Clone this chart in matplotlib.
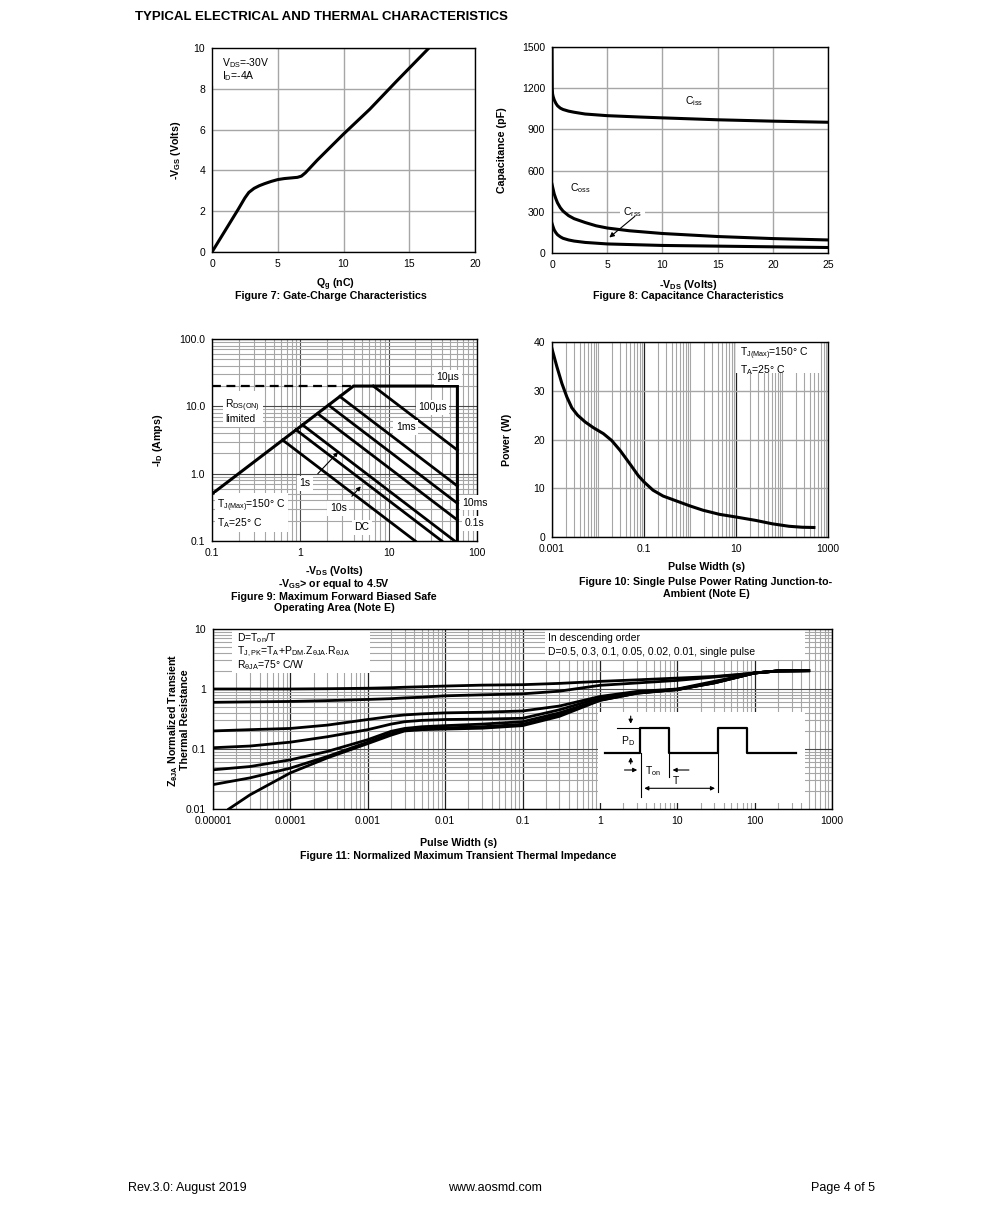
import numpy as np
import matplotlib
matplotlib.use("Agg")
import matplotlib.pyplot as plt
from matplotlib.ticker import FixedLocator, NullFormatter, LogLocator
from matplotlib.patches import Rectangle

plt.rcParams['font.family'] = ['Liberation Sans', 'DejaVu Sans']
plt.rcParams['mathtext.default'] = 'regular'

W, H = 991, 1229

# ---- Figure 7: gate charge
qg = [0, 1, 2, 2.5, 2.8, 3.2, 3.6, 4, 4.5, 5, 5.5, 6, 6.5, 6.8, 7.1, 8, 10, 12, 14, 16.5]
vgs = [0, 1.05, 2.1, 2.65, 2.92, 3.12, 3.25, 3.35, 3.46, 3.55, 3.6, 3.63, 3.66,
       3.72, 3.88, 4.5, 5.78, 7.0, 8.35, 10.0]

# ---- Figure 8: capacitance
vds_ciss = [0, 0.02, 0.05, 0.1, 0.2, 0.35, 0.5, 0.75, 1, 1.5, 2, 3, 5, 8, 10, 15, 20, 25]
ciss = [1500, 1200, 1160, 1140, 1115, 1090, 1072, 1055, 1045, 1033, 1025, 1012,
        1000, 990, 984, 970, 960, 952]
vds_coss = [0, 0.1, 0.2, 0.35, 0.5, 0.75, 1, 1.5, 2, 3, 4, 5, 7, 10, 15, 20, 25]
coss = [500, 465, 430, 395, 365, 330, 305, 272, 250, 222, 198, 182, 162, 142, 120, 105, 95]
vds_crss = [0, 0.1, 0.2, 0.35, 0.5, 0.75, 1, 1.5, 2, 3, 5, 10, 15, 20, 25]
crss = [215, 190, 168, 148, 133, 118, 107, 95, 87, 77, 66, 55, 50, 45, 40]

# ---- Figure 9: SOA
soa_env_x = [0.1, 4, 60, 60]
soa_env_y = [0.5, 20, 20, 0.1]
idm_x = [0.1, 4]
idm_y = [20, 20]
soa_labels = ["100us", "1ms", "10ms", "0.1s", "1s", "10s", "DC"]
soa_x0 = [6.7, 2.8, 2.09, 1.57, 1.06, 0.89, 0.63]
soa_y0 = [20, 14, 10.4, 7.8, 5.3, 4.5, 3.16]
soa_x1 = [60, 60, 60, 60, 56, 40, 20]
soa_y1 = [2.24, 0.656, 0.363, 0.205, 0.1, 0.1, 0.1]

# ---- Figure 10: single pulse power
pw = [0.001, 0.00128, 0.00164, 0.00211, 0.0027, 0.00359, 0.00526, 0.008, 0.0131,
      0.0198, 0.03, 0.0494, 0.0748, 0.1, 0.157, 0.26, 0.505, 0.98, 1.9, 4.36, 10,
      27, 62, 142, 276, 494]
ppk = [38.6, 34.9, 31.5, 28.7, 26.5, 25.0, 23.6, 22.4, 21.2, 19.8, 17.8, 15.0,
       12.6, 11.3, 9.6, 8.4, 7.4, 6.4, 5.5, 4.65, 4.1, 3.4, 2.7, 2.2, 2.0, 1.95]

# ---- Figure 11: transient thermal impedance
zt = [1e-5, 3e-5, 1e-4, 3e-4, 1e-3, 2e-3, 3e-3, 5e-3, 1e-2, 3e-2, 0.1, 0.3, 1, 3,
      10, 30, 60, 100, 200, 500]
z_d05 = [1.0, 1.0, 1.0, 1.01, 1.03, 1.05, 1.07, 1.09, 1.12, 1.16, 1.18, 1.24, 1.34,
         1.42, 1.52, 1.62, 1.74, 1.85, 2.0, 2.02]
z_d03 = [0.6, 0.61, 0.62, 0.64, 0.67, 0.69, 0.71, 0.73, 0.77, 0.80, 0.83, 0.92, 1.15,
         1.26, 1.39, 1.58, 1.72, 1.85, 2.0, 2.02]
z_d01 = [0.2, 0.21, 0.22, 0.25, 0.31, 0.35, 0.37, 0.385, 0.40, 0.41, 0.43, 0.52,
         0.75, 0.91, 1.0, 1.34, 1.6, 1.85, 2.0, 2.02]
z_d005 = [0.105, 0.112, 0.13, 0.16, 0.21, 0.26, 0.285, 0.30, 0.31, 0.315, 0.325,
          0.45, 0.71, 0.88, 0.97, 1.3, 1.58, 1.85, 2.0, 2.02]
z_d002 = [0.045, 0.051, 0.066, 0.091, 0.143, 0.197, 0.22, 0.235, 0.245, 0.26, 0.285,
          0.40, 0.66, 0.86, 0.99, 1.27, 1.58, 1.85, 2.0, 2.02]
z_d001 = [0.0255, 0.033, 0.048, 0.075, 0.13, 0.18, 0.205, 0.218, 0.225, 0.235, 0.258,
          0.37, 0.65, 0.85, 0.98, 1.26, 1.57, 1.85, 2.0, 2.02]
zt_sp = [1.6e-5, 3e-5, 1e-4, 3e-4, 1e-3, 2e-3, 3e-3, 5e-3, 1e-2, 3e-2, 0.1, 0.3, 1,
         3, 10, 30, 60, 100, 200, 500]
z_sp = [0.01, 0.0172, 0.04, 0.071, 0.123, 0.17, 0.2, 0.21, 0.215, 0.222, 0.245, 0.35,
        0.645, 0.85, 0.98, 1.26, 1.57, 1.85, 2.0, 2.02]

# pulse sketch (inset units)
wave_u = [7, 42, 42, 71.3, 71.3, 120.3, 120.3, 149.3, 149.3, 198]
wave_v = [50, 50, 75, 75, 50, 50, 75, 75, 50, 50]

fig = plt.figure(figsize=(W / 100, H / 100), dpi=100)

GRID = '#a6a6a6'
MAJ = '#4a4a4a'
FS = 7.5      # tick labels
FA = 7.5      # annotations
FB = 7.7      # bold labels / captions


def box(x0, y0, x1, y1):
    return fig.add_axes([x0 / W, 1 - y1 / H, (x1 - x0) / W, (y1 - y0) / H])


def ftext(x, y, s, **kw):
    kw.setdefault('ha', 'center')
    kw.setdefault('va', 'center')
    kw.setdefault('fontsize', FB)
    fig.text(x / W, 1 - y / H, s, **kw)


def style(ax):
    ax.set_axisbelow(True)
    for sp in ax.spines.values():
        sp.set_linewidth(1.0)
    ax.tick_params(which='both', length=0, labelsize=FS, pad=5)


def loggrid(ax, axis):
    a = ax.xaxis if axis == 'x' else ax.yaxis
    a.set_minor_locator(LogLocator(base=10, subs=np.arange(1, 10), numticks=100))
    a.set_minor_formatter(NullFormatter())
    ax.grid(which='minor', axis=axis, color=GRID, lw=0.8)
    ax.grid(which='major', axis=axis, color=MAJ, lw=0.8)


WHITE = dict(boxstyle='square,pad=0.25', fc='white', ec='none')

ftext(135, 17, "TYPICAL ELECTRICAL AND THERMAL CHARACTERISTICS",
      ha='left', fontsize=9.5, fontweight='bold')

# ---------------- Figure 7
ax7 = box(212, 48, 475, 252)
style(ax7)
ax7.plot(qg, vgs, color='k', lw=2.2)
ax7.set_xlim(0, 20)
ax7.set_ylim(0, 10)
ax7.set_xticks(range(0, 21, 5))
ax7.set_yticks(range(0, 11, 2))
ax7.grid(color=GRID, lw=1)
ax7.add_patch(Rectangle((0.05, 8.15), 4.8, 1.8, fc='white', ec='none', zorder=1))
ax7.text(0.037, 0.925, "V$_{DS}$=-30V", transform=ax7.transAxes,
         va='center', fontsize=FA)
ax7.text(0.037, 0.862, "I$_{D}$=-4A", transform=ax7.transAxes,
         va='center', fontsize=FA)
ftext(176, 150, "-V$_{GS}$ (Volts)", rotation=90, fontweight='bold')
ftext(335, 285, "Q$_{g}$ (nC)", fontweight='bold')
ftext(331, 296.5, "Figure 7: Gate-Charge Characteristics", fontweight='bold')

# ---------------- Figure 8
ax8 = box(552, 47, 828, 253)
style(ax8)
ax8.plot(vds_ciss, ciss, color='k', lw=2.2)
ax8.plot(vds_coss, coss, color='k', lw=2.2)
ax8.plot(vds_crss, crss, color='k', lw=2.2)
ax8.set_xlim(0, 25)
ax8.set_ylim(0, 1500)
ax8.set_xticks(range(0, 26, 5))
ax8.set_yticks(range(0, 1501, 300))
ax8.grid(color=GRID, lw=1)
ax8.text(12.9, 1108, "C$_{iss}$", fontsize=FA, ha='center', va='center')
ax8.text(2.6, 470, "C$_{oss}$", fontsize=FA, ha='center', va='center')
ax8.text(7.3, 300, "C$_{rss}$", fontsize=FA, ha='center', va='center', bbox=WHITE)
ax8.annotate("", xy=(5.0, 100), xytext=(7.7, 280),
             arrowprops=dict(arrowstyle='-|>', color='k', lw=0.8, mutation_scale=7))
ftext(502, 150, "Capacitance (pF)", rotation=90, fontweight='bold')
ftext(688, 285, "-V$_{DS}$ (Volts)", fontweight='bold')
ftext(688, 296.5, "Figure 8: Capacitance Characteristics", fontweight='bold')

# ---------------- Figure 9
ax9 = box(212, 339, 477, 541)
style(ax9)
ax9.set_xscale('log')
ax9.set_yscale('log')
ax9.set_xlim(0.1, 100)
ax9.set_ylim(0.1, 100)
ax9.xaxis.set_major_locator(FixedLocator([0.1, 1, 10, 100]))
ax9.set_xticklabels(["0.1", "1", "10", "100"])
ax9.yaxis.set_major_locator(FixedLocator([0.1, 1, 10, 100]))
ax9.set_yticklabels(["0.1", "1.0", "10.0", "100.0"])
loggrid(ax9, 'x')
loggrid(ax9, 'y')
ax9.plot(soa_env_x, soa_env_y, color='k', lw=2.2, solid_joinstyle='miter')
ax9.plot(idm_x, idm_y, color='k', lw=1.6, ls=(0, (4, 2.5)))
for x0, y0, x1, y1 in zip(soa_x0, soa_y0, soa_x1, soa_y1):
    ax9.plot([x0, x1], [y0, y1], color='k', lw=2.0)
t9 = dict(transform=ax9.transAxes, fontsize=FA, va='center', bbox=WHITE)
ax9.text(0.89, 0.81, "10\u00b5s", ha='center', **t9)
ax9.text(0.832, 0.661, "100\u00b5s", ha='center', **t9)
ax9.text(0.731, 0.562, "1ms", ha='center', **t9)
ax9.text(0.05, 0.645, "R$_{DS(ON)}$\nlimited", ha='left', linespacing=1.05, **t9)
ax9.text(0.351, 0.286, "1s", ha='center', **t9)
ax9.text(0.477, 0.162, "10s", ha='center', **t9)
ax9.text(0.565, 0.068, "DC", ha='center', **t9)
ax9.text(0.945, 0.19, "10ms", ha='left', **t9)
ax9.text(0.955, 0.088, "0.1s", ha='left', **t9)
ax9.text(0.02, 0.134, "T$_{J(Max)}$=150\u00b0 C\nT$_{A}$=25\u00b0 C", ha='left',
         linespacing=1.15, **t9)
arrow9 = dict(arrowstyle='-|>', color='k', lw=0.8, mutation_scale=6)
ax9.annotate("", xy=(2.81, 2.24), xytext=(1.5, 0.93), arrowprops=arrow9)
ax9.annotate("", xy=(5.08, 0.695), xytext=(3.65, 0.43), arrowprops=arrow9)
ftext(158, 440, "-I$_{D}$ (Amps)", rotation=90, fontweight='bold')
ftext(334, 571.5, "-V$_{DS}$ (Volts)", fontweight='bold')
ftext(334, 584, "-V$_{GS}$> or equal to 4.5V", fontweight='bold')
ftext(334, 596.5, "Figure 9: Maximum Forward Biased Safe", fontweight='bold')
ftext(334, 608, "Operating Area (Note E)", fontweight='bold')

# ---------------- Figure 10
ax10 = box(552, 342, 828, 537)
style(ax10)
ax10.set_xscale('log')
ax10.set_xlim(0.001, 1000)
ax10.set_ylim(0, 40)
ax10.xaxis.set_major_locator(FixedLocator([0.001, 0.1, 10, 1000]))
ax10.set_xticklabels(["0.001", "0.1", "10", "1000"])
ax10.set_yticks(range(0, 41, 10))
loggrid(ax10, 'x')
ax10.grid(which='major', axis='x', color='#202020', lw=0.9)
ax10.grid(which='major', axis='y', color=GRID, lw=1)
ax10.plot(pw, ppk, color='k', lw=2.2)
ax10.add_patch(Rectangle((0.665, 0.84), 0.305, 0.16, transform=ax10.transAxes,
                         fc='white', ec='none', zorder=1))
ax10.text(0.68, 0.90, "T$_{J(Max)}$=150\u00b0 C\nT$_{A}$=25\u00b0 C",
          transform=ax10.transAxes, fontsize=FA, va='center', linespacing=1.15)
ftext(507, 440, "Power (W)", rotation=90, fontweight='bold')
ftext(706, 567, "Pulse Width (s)", fontweight='bold')
ftext(706, 582, "Figure 10: Single Pulse Power Rating Junction-to-", fontweight='bold')
ftext(706, 594, "Ambient (Note E)", fontweight='bold')

# ---------------- Figure 11
ax11 = box(213, 629, 832, 809)
style(ax11)
ax11.set_xscale('log')
ax11.set_yscale('log')
ax11.set_xlim(1e-5, 1000)
ax11.set_ylim(0.01, 10)
xt11 = [1e-5, 1e-4, 1e-3, 1e-2, 0.1, 1, 10, 100, 1000]
ax11.xaxis.set_major_locator(FixedLocator(xt11))
ax11.set_xticklabels(["0.00001", "0.0001", "0.001", "0.01", "0.1", "1", "10",
                      "100", "1000"])
ax11.yaxis.set_major_locator(FixedLocator([0.01, 0.1, 1, 10]))
ax11.set_yticklabels(["0.01", "0.1", "1", "10"])
loggrid(ax11, 'x')
loggrid(ax11, 'y')
ax11.grid(which='major', axis='x', color='#202020', lw=0.9)
for zz in [z_d05, z_d03, z_d01, z_d005, z_d002, z_d001]:
    ax11.plot(zt, zz, color='k', lw=2.0)
ax11.plot(zt_sp, z_sp, color='k', lw=2.0)
ax11.add_patch(Rectangle((0.03, 0.756), 0.224, 0.244, transform=ax11.transAxes,
                         fc='white', ec='none', zorder=1))
t11 = dict(transform=ax11.transAxes, fontsize=FA, va='center')
ax11.text(0.038, 0.95, "D=T$_{on}$/T", **t11)
ax11.text(0.038, 0.872,
          "T$_{J,PK}$=T$_{A}$+P$_{DM}$.Z$_{\u03b8JA}$.R$_{\u03b8JA}$", **t11)
ax11.text(0.038, 0.80, "R$_{\u03b8JA}$=75\u00b0 C/W", **t11)
ax11.add_patch(Rectangle((0.536, 0.828), 0.42, 0.172, transform=ax11.transAxes,
                         fc='white', ec='none', zorder=1))
ax11.text(0.541, 0.948, "In descending order", **t11)
ax11.text(0.541, 0.871, "D=0.5, 0.3, 0.1, 0.05, 0.02, 0.01, single pulse", **t11)
ftext(178, 720, "Z$_{\u03b8JA}$ Normalized Transient\nThermal Resistance",
      rotation=90, fontweight='bold', linespacing=1.0)
ftext(458, 843, "Pulse Width (s)", fontweight='bold')
ftext(458, 856, "Figure 11: Normalized Maximum Transient Thermal Impedance",
      fontweight='bold')

# pulse sketch inset
axp = box(598, 712, 805, 803)
axp.set_xlim(0, 207)
axp.set_ylim(0, 91)
axp.set_facecolor('white')
axp.set_xticks([])
axp.set_yticks([])
for sp in axp.spines.values():
    sp.set_visible(False)
axp.plot(wave_u, wave_v, color='k', lw=1.6)
axp.plot([18.7, 42], [75, 75], color='k', lw=0.8)
for u, v0 in [(43, 6.3), (71.3, 26.3), (120.3, 11.3)]:
    axp.plot([u, u], [50, v0], color='k', lw=0.8)
ap = dict(arrowstyle='-|>', color='k', lw=0.8, mutation_scale=6)
axp.annotate("", xy=(32.7, 76.5), xytext=(32.7, 89.7), arrowprops=ap)
axp.annotate("", xy=(32.7, 48.5), xytext=(32.7, 36.3), arrowprops=ap)
axp.annotate("", xy=(42, 33), xytext=(23.7, 33), arrowprops=ap)
axp.annotate("", xy=(71.8, 33), xytext=(93.7, 33), arrowprops=ap)
axp.annotate("", xy=(43.5, 14.7), xytext=(119.8, 14.7),
             arrowprops=dict(arrowstyle='<|-|>', color='k', lw=0.8, mutation_scale=6))
axp.text(30.3, 61.5, "P$_{D}$", fontsize=FA, ha='center', va='center')
axp.text(55.5, 32, "T$_{on}$", fontsize=FA, ha='center', va='center')
axp.text(78, 22, "T", fontsize=FA, ha='center', va='center')

# footer
ftext(128, 1188, "Rev.3.0: August 2019", ha='left', fontsize=9)
ftext(495, 1188, "www.aosmd.com", fontsize=9)
ftext(875, 1188, "Page 4 of 5", ha='right', fontsize=9)

fig.savefig("out.png", dpi=100)
